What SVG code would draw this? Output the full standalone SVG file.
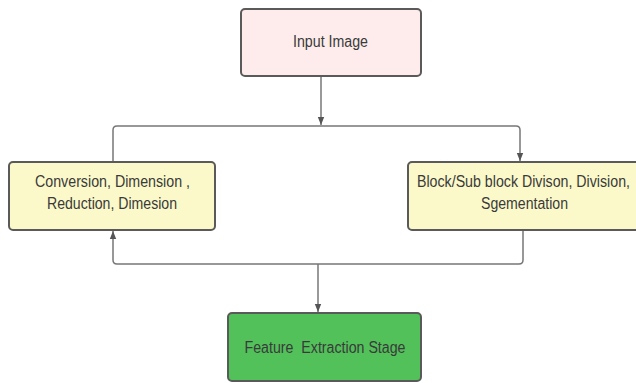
<svg xmlns="http://www.w3.org/2000/svg" width="636" height="383" viewBox="0 0 636 383">
  <defs>
    <marker id="arrow" viewBox="0 0 10 10" refX="10" refY="5" markerWidth="8" markerHeight="10" markerUnits="userSpaceOnUse" orient="auto">
      <path d="M0,1 L10,5 L0,9 Z" fill="#555"/>
    </marker>
    <style>
      .box { stroke: #5a5a5a; stroke-width: 2; }
      .pink { fill: #fdeceb; }
      .yellow { fill: #fbf9c9; }
      .green { fill: #52c15a; }
      .label { font-family: "Liberation Sans", Arial, sans-serif; font-size: 16px; fill: #3a3a3a; text-anchor: middle; }
      .conn { fill: none; stroke: #777; stroke-width: 1.5; }
    </style>
  </defs>
  <rect width="636" height="383" fill="#ffffff"/>

  <g id="connectors">
    <!-- input to split line -->
    <path class="conn" d="M321,77 V125" marker-end="url(#arrow)"/>
    <!-- split line across to both stages -->
    <path class="conn" d="M113,162 V130 Q113,126 117,126 H516 Q520,126 520,130 V161" marker-end="url(#arrow)"/>
    <!-- return path from right stage back to left stage -->
    <path class="conn" d="M523,230 V260 Q523,264 519,264 H117 Q113,264 113,260 V231" marker-end="url(#arrow)"/>
    <!-- down to feature extraction -->
    <path class="conn" d="M318,264 V312" marker-end="url(#arrow)"/>
  </g>

  <g id="input-image">
    <rect class="box pink" x="241" y="9" width="180" height="67" rx="4"/>
    <text class="label" x="330.5" y="46.5" textLength="75" lengthAdjust="spacingAndGlyphs">Input Image</text>
  </g>

  <g id="conversion">
    <rect class="box yellow" x="9" y="162" width="206" height="68" rx="4"/>
    <text class="label" x="112.5" y="187" textLength="155" lengthAdjust="spacingAndGlyphs">Conversion, Dimension ,</text>
    <text class="label" x="112" y="208.5" textLength="130" lengthAdjust="spacingAndGlyphs">Reduction, Dimesion</text>
  </g>

  <g id="block-division">
    <rect class="box yellow" x="408" y="162" width="232" height="68" rx="4"/>
    <text class="label" x="523.5" y="187.3" textLength="213" lengthAdjust="spacingAndGlyphs">Block/Sub block Divison, Division,</text>
    <text class="label" x="524.5" y="209.3" textLength="87" lengthAdjust="spacingAndGlyphs">Sgementation</text>
  </g>

  <g id="feature-extraction">
    <rect class="box green" x="228" y="313" width="193" height="68" rx="4"/>
    <text class="label" x="325" y="353" textLength="161" lengthAdjust="spacingAndGlyphs" xml:space="preserve">Feature  Extraction Stage</text>
  </g>
</svg>
